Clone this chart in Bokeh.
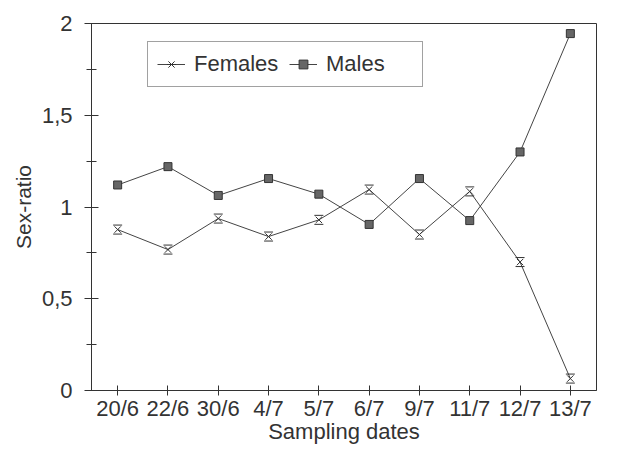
from bokeh.plotting import figure
from bokeh.models import (FactorRange, Range1d, Legend, LegendItem,
                          SingleIntervalTicker, CustomJSTickFormatter)
from bokeh.transform import dodge
from bokeh.embed import file_html
from bokeh.resources import INLINE

dates = ["20/6", "22/6", "30/6", "4/7", "5/7", "6/7", "9/7", "11/7", "12/7", "13/7"]
females = [0.877, 0.768, 0.937, 0.839, 0.930, 1.095, 0.850, 1.085, 0.700, 0.065]
males = [1.120, 1.220, 1.063, 1.155, 1.070, 0.905, 1.155, 0.926, 1.300, 1.945]

FONT = "Liberation Sans"
TXT = "#333333"
LINE = "#444444"

W, H = 628, 450
BL, BT, BR, BB = 91, 23, 32, 60
Y0, Y1 = 0, 2
MARK = 9  # hourglass marker size in px
# half marker height expressed in data units of the y scale
half = (MARK / 2) * (Y1 - Y0) / (H - BT - BB)

p = figure(width=W, height=H, output_backend="svg", toolbar_location=None,
           x_range=FactorRange(factors=dates, range_padding=0.004),
           y_range=Range1d(Y0, Y1),
           min_border_left=BL, min_border_top=BT, min_border_right=BR,
           min_border_bottom=BB)
p.background_fill_color = "white"
p.border_fill_color = "white"
p.outline_line_color = "#333333"
p.outline_line_width = 1
p.grid.visible = False

src = dict(d=dates, f=females, m=males)
fl = p.line("d", "f", source=src, line_color=LINE, line_width=1)
fx = p.scatter("d", "f", source=src, marker="x", size=MARK,
               line_color="#333333", line_width=1)
ft = p.scatter("d", dodge("f", half), source=src, marker="dash", size=MARK,
               line_color="#333333", line_width=1)
fb = p.scatter("d", dodge("f", -half), source=src, marker="dash", size=MARK,
               line_color="#333333", line_width=1)
ml = p.line("d", "m", source=src, line_color=LINE, line_width=1)
ms = p.scatter("d", "m", source=src, marker="square", size=8,
               fill_color="#666666", line_color="#333333", line_width=1)

# axes
xa = p.xaxis[0]
xa.axis_label = "Sampling dates"
xa.major_tick_in = 5
xa.major_tick_out = 5
xa.major_label_standoff = 0
xa.axis_label_standoff = -5

ya = p.yaxis[0]
ya.axis_label = "Sex-ratio"
ya.ticker = SingleIntervalTicker(interval=0.5, num_minor_ticks=2)
ya.formatter = CustomJSTickFormatter(code="return String(tick).replace('.', ',');")
ya.major_tick_in = 7
ya.major_tick_out = 7
ya.minor_tick_in = 5
ya.minor_tick_out = 5
ya.major_label_standoff = 12
ya.axis_label_standoff = 4

for ax in (xa, ya):
    ax.axis_line_color = "#333333"
    ax.major_tick_line_color = "#333333"
    ax.minor_tick_line_color = "#333333"
    ax.major_label_text_font = FONT
    ax.major_label_text_font_size = "22px"
    ax.major_label_text_color = TXT
    ax.axis_label_text_font = FONT
    ax.axis_label_text_font_style = "normal"
    ax.axis_label_text_color = TXT
xa.axis_label_text_font_size = "22px"
ya.axis_label_text_font_size = "21px"

legend = Legend(items=[LegendItem(label="Females", renderers=[fl, fx, ft, fb]),
                       LegendItem(label="Males", renderers=[ml, ms])],
                orientation="horizontal", location=(56, 303))
legend.label_text_font = FONT
legend.label_text_font_size = "22px"
legend.label_text_color = TXT
legend.glyph_width = 28
legend.glyph_height = 22
legend.label_standoff = 9
legend.label_width = 87
legend.spacing = 8
legend.padding = 9
legend.margin = 0
legend.border_line_color = "#444444"
legend.border_line_width = 1
legend.background_fill_alpha = 1
p.add_layout(legend)

open("out.html", "w").write(file_html(p, INLINE))
